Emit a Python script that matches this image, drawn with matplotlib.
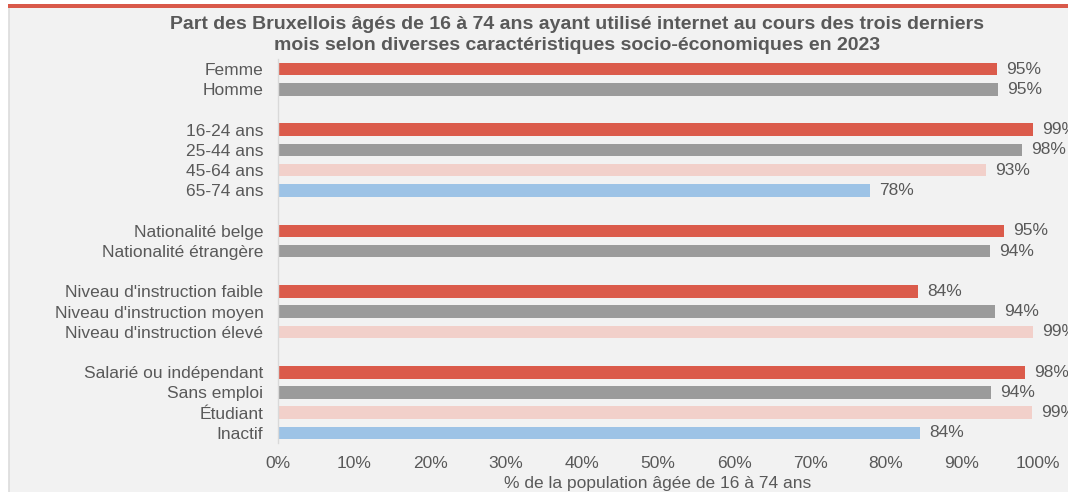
import matplotlib.pyplot as plt
from matplotlib.patches import Rectangle
from matplotlib.lines import Line2D

# data (share in %)
CATEGORIES = [
    'Femme', 'Homme', '',
    '16-24 ans', '25-44 ans', '45-64 ans', '65-74 ans', '',
    'Nationalité belge', 'Nationalité étrangère', '',
    "Niveau d'instruction faible", "Niveau d'instruction moyen", "Niveau d'instruction élevé", '',
    'Salarié ou indépendant', 'Sans emploi', 'Étudiant', 'Inactif',
]
VALUES = [
    94.6, 94.7, None,
    99.3, 97.9, 93.2, 77.9, None,
    95.5, 93.7, None,
    84.2, 94.3, 99.3, None,
    98.3, 93.8, 99.2, 84.5,
]
LABELS = [
    '95%', '95%', '',
    '99%', '98%', '93%', '78%', '',
    '95%', '94%', '',
    '84%', '94%', '99%', '',
    '98%', '94%', '99%', '84%',
]
COLOR_KEYS = [
    'red', 'grey', None,
    'red', 'grey', 'pink', 'blue', None,
    'red', 'grey', None,
    'red', 'grey', 'pink', None,
    'red', 'grey', 'pink', 'blue',
]
X_TICKS = [0, 10, 20, 30, 40, 50, 60, 70, 80, 90, 100]

COLORS = {'red': '#db5b4b', 'grey': '#9b9b9b', 'pink': '#f2d0ca', 'blue': '#9dc3e6'}
TEXT = '#595959'
BG = '#f2f2f2'
FS = 12.5

plt.rcParams['font.family'] = ['Liberation Sans', 'DejaVu Sans']

fig = plt.figure(figsize=(10.68, 4.92), dpi=100, facecolor='white')

# panel background, left border and red top line
fig.patches.append(Rectangle((9 / 1068, 0), 1, 1 - 7 / 492, transform=fig.transFigure,
                             facecolor=BG, edgecolor='none', zorder=-3))
fig.lines.append(Line2D([8.5 / 1068, 8.5 / 1068], [0, 1 - 7 / 492], transform=fig.transFigure,
                        color='#dcdcdc', linewidth=1.2, zorder=-2))
fig.patches.append(Rectangle((8 / 1068, 1 - 7.5 / 492), 1, 3.5 / 492, transform=fig.transFigure,
                             facecolor='#d9594a', edgecolor='none', zorder=-1))

ax = fig.add_axes([278 / 1068, 1 - 443 / 492, (1038 - 278) / 1068, (443 - 59) / 492])
ax.set_facecolor(BG)

ypos = list(range(len(CATEGORIES)))
for y, v, lab, ck in zip(ypos, VALUES, LABELS, COLOR_KEYS):
    if v is None:
        continue
    ax.barh(y, v, height=0.62, color=COLORS[ck])
    ax.annotate(lab, (v, y), xytext=(6.5, 0), textcoords='offset points',
                va='center', ha='left', fontsize=FS, color=TEXT, annotation_clip=False)

ax.set_ylim(len(CATEGORIES) - 0.5, -0.5)
ax.set_xlim(0, 100)
ax.set_yticks(ypos)
ax.set_yticklabels(CATEGORIES, fontsize=FS, color=TEXT)
ax.set_xticks(X_TICKS)
ax.set_xticklabels([f'{t}%' for t in X_TICKS], fontsize=FS, color=TEXT)
ax.tick_params(axis='both', length=0)
ax.tick_params(axis='y', pad=10.5)
ax.tick_params(axis='x', pad=9)

for side in ['top', 'right', 'bottom']:
    ax.spines[side].set_visible(False)
ax.spines['left'].set_color('#d9d9d9')
ax.spines['left'].set_linewidth(1)

ax.set_xlabel('% de la population âgée de 16 à 74 ans', fontsize=FS, color=TEXT, labelpad=4)

fig.text(577 / 1068, 1 - 35 / 492,
         'Part des Bruxellois âgés de 16 à 74 ans ayant utilisé internet au cours des trois derniers\n'
         'mois selon diverses caractéristiques socio-économiques en 2023',
         ha='center', va='center', fontsize=14, fontweight='bold', color=TEXT,
         family=['Liberation Sans Narrow', 'Liberation Sans', 'DejaVu Sans'], linespacing=1.3)

fig.savefig('out.png', dpi=100, facecolor=fig.get_facecolor())
